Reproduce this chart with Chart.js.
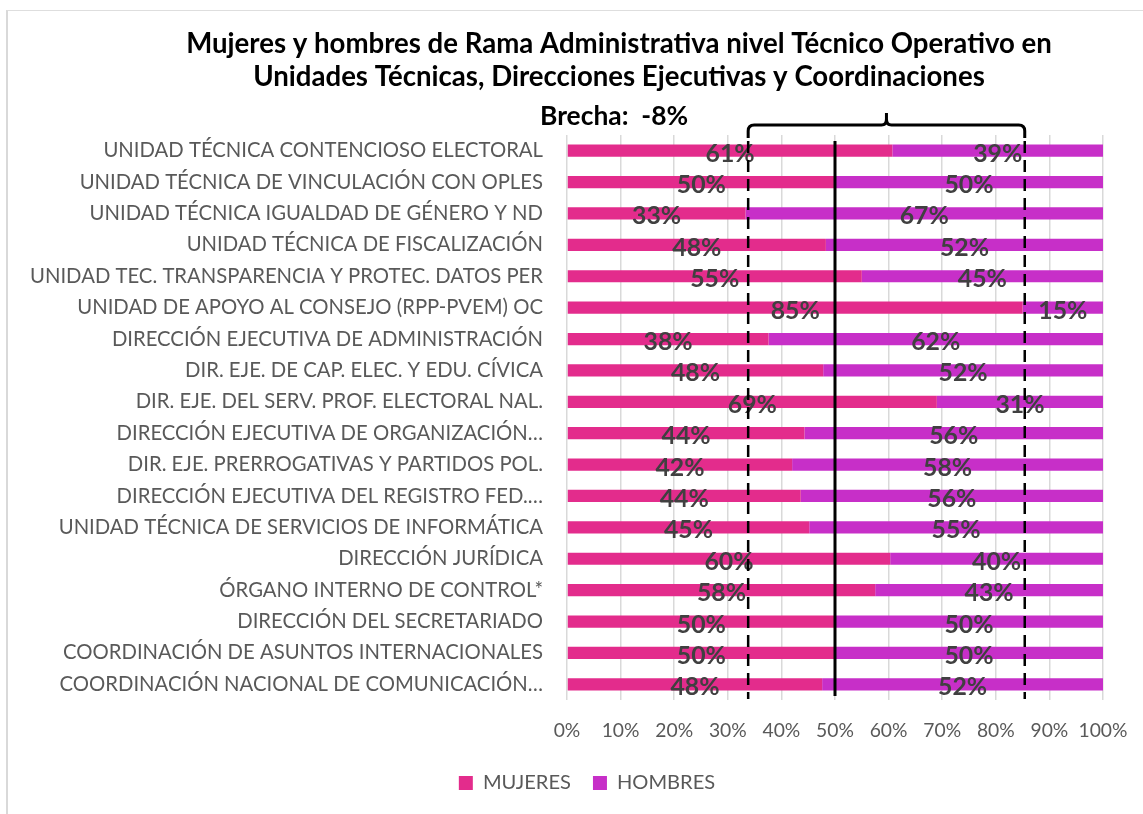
<!DOCTYPE html>
<html>
<head>
<meta charset="utf-8">
<script src="https://cdn.jsdelivr.net/npm/chart.js@4/dist/chart.umd.min.js"></script>
<style>
  html, body { margin:0; padding:0; background:#fff; width:1143px; height:814px; overflow:hidden; }
  #frame { position:absolute; left:6px; top:10px; width:1160px; height:830px; border-left:2px solid #d9d9d9; border-top:1px solid #dedede; box-sizing:border-box; }
  #c { position:absolute; left:0; top:0; }
</style>
</head>
<body>
<div id="frame"></div>
<canvas id="c" width="1143" height="814"></canvas>
<script>
const categories = [
  'UNIDAD TÉCNICA CONTENCIOSO ELECTORAL',
  'UNIDAD TÉCNICA DE VINCULACIÓN CON OPLES',
  'UNIDAD TÉCNICA IGUALDAD DE GÉNERO Y ND',
  'UNIDAD TÉCNICA DE FISCALIZACIÓN',
  'UNIDAD TEC. TRANSPARENCIA Y PROTEC. DATOS PER',
  'UNIDAD DE APOYO AL CONSEJO (RPP-PVEM) OC',
  'DIRECCIÓN EJECUTIVA DE ADMINISTRACIÓN',
  'DIR. EJE. DE CAP. ELEC. Y EDU. CÍVICA',
  'DIR. EJE. DEL SERV. PROF. ELECTORAL NAL.',
  'DIRECCIÓN EJECUTIVA DE ORGANIZACIÓN…',
  'DIR. EJE. PRERROGATIVAS Y PARTIDOS POL.',
  'DIRECCIÓN EJECUTIVA DEL REGISTRO FED.…',
  'UNIDAD TÉCNICA DE SERVICIOS DE INFORMÁTICA',
  'DIRECCIÓN JURÍDICA',
  'ÓRGANO INTERNO DE CONTROL*',
  'DIRECCIÓN DEL SECRETARIADO',
  'COORDINACIÓN DE ASUNTOS INTERNACIONALES',
  'COORDINACIÓN NACIONAL DE COMUNICACIÓN…'
];
const mujeres = [60.7, 50, 33.3, 48.3, 55, 85, 37.6, 47.8, 69, 44.3, 42, 43.6, 45.2, 60.3, 57.5, 50, 50, 47.6];
const hombres = [39.3, 50, 66.7, 51.7, 45, 15, 62.4, 52.2, 31, 55.7, 58, 56.4, 54.8, 39.7, 42.5, 50, 50, 52.4];
const mujeresLabels = ['61%','50%','33%','48%','55%','85%','38%','48%','69%','44%','42%','44%','45%','60%','58%','50%','50%','48%'];
const hombresLabels = ['39%','50%','67%','52%','45%','15%','62%','52%','31%','56%','58%','56%','55%','40%','43%','50%','50%','52%'];
const xTickLabels = ['0%','10%','20%','30%','40%','50%','60%','70%','80%','90%','100%'];
const seriesNames = ['MUJERES', 'HOMBRES'];
const titleLines = ['Mujeres y hombres de Rama Administrativa nivel Técnico Operativo en', 'Unidades Técnicas, Direcciones Ejecutivas y Coordinaciones'];
const brechaText = 'Brecha:  -8%';
const rangeLow = 33.8;   // dashed line (lowest share of mujeres)
const rangeHigh = 85.4;  // dashed line (highest share of mujeres)
const parity = 50;

const FONT = 'Lato';
const GRAY = '#595959';

// font sizes chosen so that text widths match the reference
const mctx = document.createElement('canvas').getContext('2d');
function fit(text, weight, target) {
  mctx.font = weight + ' 100px ' + FONT;
  return Math.round(100 * target / mctx.measureText(text).width * 10) / 10;
}
const SZ_CAT = fit('UNIDAD TÉCNICA DE SERVICIOS DE INFORMÁTICA', 'normal', 485);
const SZ_TITLE = fit(titleLines[0], 'bold', 866);
const SZ_BRECHA = fit(brechaText, 'bold', 148);
const SZ_VAL = fit('50%', 'bold', 49);
const SZ_TICK = fit('100%', 'normal', 49);
const SZ_LEG = fit('HOMBRES', 'normal', 98);
const LEG_PAD = 22;
const TICK_PAD = 12;

const overlay = {
  id: 'overlay',
  afterLayout(chart) {
    // centre the legend under the reference position
    if (chart.legend) chart.legend.left += 56;
  },
  afterDatasetsDraw(chart) {
    const ctx = chart.ctx;
    ctx.save();
    ctx.font = 'bold ' + SZ_VAL + 'px ' + FONT;
    ctx.fillStyle = '#404040';
    ctx.textAlign = 'center';
    ctx.textBaseline = 'middle';
    const lbls = [mujeresLabels, hombresLabels];
    chart.data.datasets.forEach((ds, di) => {
      const meta = chart.getDatasetMeta(di);
      meta.data.forEach((bar, i) => {
        const cx = (bar.x + bar.base) / 2;
        ctx.fillText(lbls[di][i], cx, bar.y + 3);
      });
    });
    ctx.restore();
  },
  afterDraw(chart) {
    const ctx = chart.ctx;
    const xs = chart.scales.x;
    const ca = chart.chartArea;
    ctx.save();
    // parity line
    ctx.strokeStyle = '#000';
    ctx.lineWidth = 3;
    const xp = xs.getPixelForValue(parity);
    ctx.beginPath(); ctx.moveTo(xp, ca.top + 6); ctx.lineTo(xp, ca.bottom - 4); ctx.stroke();
    // dashed range lines
    const xl = xs.getPixelForValue(rangeLow), xr = xs.getPixelForValue(rangeHigh);
    ctx.lineWidth = 2.5;
    ctx.setLineDash([12, 7]);
    ctx.beginPath();
    ctx.moveTo(xl, ca.top + 6); ctx.lineTo(xl, ca.bottom - 1);
    ctx.moveTo(xr, ca.top + 6); ctx.lineTo(xr, ca.bottom - 1);
    ctx.stroke();
    ctx.setLineDash([]);
    // bracket
    const xm = (xl + xr) / 2;
    const yb = ca.top - 10, yl = ca.top + 3, yt = ca.top - 22;
    ctx.lineWidth = 3;
    ctx.beginPath();
    ctx.moveTo(xl, yl);
    ctx.lineTo(xl, yb + 6);
    ctx.quadraticCurveTo(xl, yb, xl + 6, yb);
    ctx.lineTo(xm - 5, yb);
    ctx.quadraticCurveTo(xm, yb, xm, yb - 6);
    ctx.lineTo(xm, yt);
    ctx.moveTo(xm, yb - 6);
    ctx.quadraticCurveTo(xm, yb, xm + 5, yb);
    ctx.lineTo(xr - 6, yb);
    ctx.quadraticCurveTo(xr, yb, xr, yb + 6);
    ctx.lineTo(xr, yl);
    ctx.stroke();
    // title
    ctx.fillStyle = '#000';
    ctx.textAlign = 'center';
    ctx.textBaseline = 'middle';
    ctx.font = 'bold ' + SZ_TITLE + 'px ' + FONT;
    ctx.fillText(titleLines[0], 619, 44);
    ctx.fillText(titleLines[1], 619, 77);
    ctx.textAlign = 'left';
    ctx.font = 'bold ' + SZ_BRECHA + 'px ' + FONT;
    ctx.fillText(brechaText, 540, 116);
    ctx.restore();
  }
};

// legend box height in Chart.js: font size + padding + 10
const legendTop = 783 - LEG_PAD - SZ_LEG / 2;
const legendH = SZ_LEG + LEG_PAD + 10;
const bottomPad = 814 - legendTop - legendH;
const xAxisH = legendTop - 700;

new Chart(document.getElementById('c'), {
  type: 'bar',
  data: {
    labels: categories,
    datasets: [
      { label: seriesNames[0], data: mujeres, backgroundColor: '#E32C8C', barPercentage: 0.39, categoryPercentage: 1 },
      { label: seriesNames[1], data: hombres, backgroundColor: '#C72FC8', barPercentage: 0.39, categoryPercentage: 1 }
    ]
  },
  options: {
    responsive: false,
    animation: false,
    indexAxis: 'y',
    layout: { padding: { left: 15, right: 40, top: 135, bottom: bottomPad } },
    scales: {
      x: {
        stacked: true, min: 0, max: 100,
        ticks: { stepSize: 10, callback: (v, i) => xTickLabels[i], color: GRAY,
                 font: { family: FONT, size: SZ_TICK, lineHeight: 2 * (31 - TICK_PAD) / SZ_TICK },
                 padding: TICK_PAD, maxRotation: 0 },
        grid: { color: '#d9d9d9', drawTicks: false, lineWidth: 1.5 },
        border: { display: false },
        afterFit(s) { s.height = xAxisH; }
      },
      y: {
        stacked: true,
        grid: { display: false, drawTicks: false },
        border: { display: false },
        ticks: { color: GRAY, font: { family: FONT, size: SZ_CAT }, padding: 24, autoSkip: false },
        afterFit(s) { s.width = 552; }
      }
    },
    plugins: {
      legend: {
        position: 'bottom',
        labels: { boxWidth: 14, boxHeight: 14, color: GRAY, font: { family: FONT, size: SZ_LEG }, padding: LEG_PAD }
      },
      tooltip: { enabled: false },
      title: { display: false }
    }
  },
  plugins: [overlay]
});
</script>
</body>
</html>
